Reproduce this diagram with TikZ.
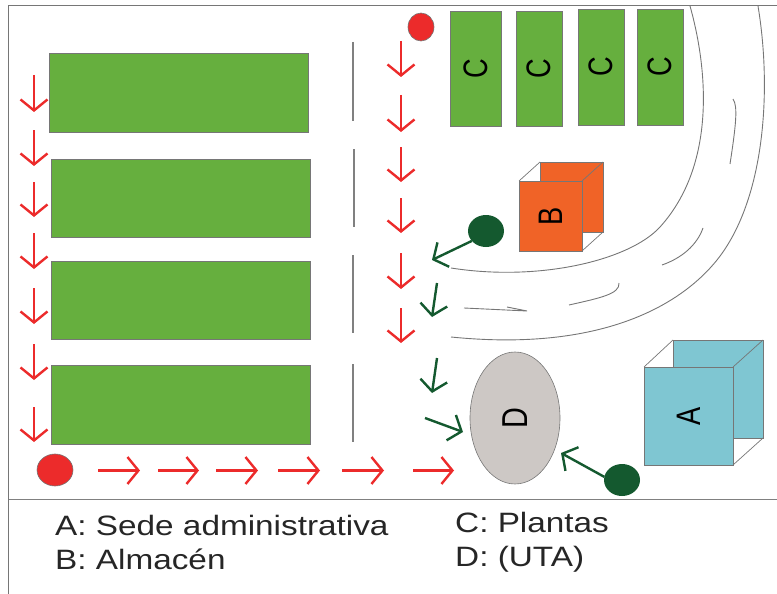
\documentclass[tikz,border=0pt]{standalone}
\usepackage{fontspec}
\usetikzlibrary{arrows.meta,shapes.geometric}
\setmainfont{Liberation Sans}
\newfontfamily\legendfont[FakeStretch=1.19]{Liberation Sans}
\newfontfamily\tagfont[FakeStretch=.8]{Liberation Sans}
\definecolor{fieldgreen}{HTML}{66AF3E}
\definecolor{storeorange}{HTML}{F06327}
\definecolor{officeblue}{HTML}{7FC6D2}
\definecolor{unitgray}{HTML}{CDC8C5}
\definecolor{flowred}{HTML}{EC2B2B}
\definecolor{flowgreen}{HTML}{14592F}
\definecolor{linegray}{HTML}{767676}

\begin{document}
\begin{tikzpicture}[
    x=1pt, y=-1pt, line join=miter,
    plotbox/.style={
      draw=linegray, line width=.8pt, shape=rectangle, inner sep=0pt, outer sep=0pt,
      text=black, font=\tagfont\fontsize{34}{34}\selectfont},
    field/.style={plotbox, fill=fieldgreen},
    store/.style={plotbox, fill=storeorange},
    office/.style={plotbox, fill=officeblue},
    blob/.style={shape=ellipse, inner sep=0pt, outer sep=0pt, draw=linegray, line width=.6pt},
    road/.style={draw=linegray, line width=.9pt},
    redflow/.style={draw=flowred, line width=2.4pt, -{Straight Barb[length=11pt,width=27pt,line width=2.4pt]}},
    greenflow/.style={draw=flowgreen, line width=2.4pt, -{Straight Barb[length=11pt,width=27pt,line width=2.4pt]}},
    legend/.style={anchor=base west, inner sep=0pt, text=black!85, font=\legendfont\fontsize{28}{28}\selectfont}]
  \useasboundingbox (0,0) rectangle (777,594);

  % frame
  \draw[road] (8.5,594) -- (8.5,5.5) -- (777,5.5);
  \draw[road, line width=1.2pt, draw=gray] (8.5,499.5) -- (777,499.5);

  % fields
  \foreach \x/\y/\w/\h[count=\i] in {178.5/92.5/259/79, 180.5/198/259/78, 180.5/300/259/78, 180.5/405/259/79}
  \node[field, minimum width=\w pt, minimum height=\h pt] (field-\i) at (\x,\y) {};

  % plants
  \foreach \x/\y/\w/\h[count=\i] in {475.5/68.5/51/115, 539/68.5/46/115, 601/67/46/116, 660/67/46/116}
  \node[field, minimum width=\w pt, minimum height=\h pt] (plant-\i) at (\x,\y) {\rotatebox{90}{C}};

  % stores
  \node[store, minimum width=63pt, minimum height=70pt] (store-back) at (571.5,197) {};
  \node[store, minimum width=63pt, minimum height=70pt] (store-front) at (550.5,216) {\rotatebox{90}{B}};
  \foreach \a in {north west,north east,south east}
  \draw[road, line width=.7pt] (store-front.\a) -- (store-back.\a);

  % office
  \node[office, minimum width=90pt, minimum height=98pt] (office-back) at (718,389) {};
  \node[office, minimum width=89pt, minimum height=98pt] (office-front) at (688.5,416) {\rotatebox{90}{A}};
  \foreach \a in {north west,north east,south east}
  \draw[road, line width=.7pt] (office-front.\a) -- (office-back.\a);

  % unit
  \node[blob, fill=unitgray, minimum width=90pt, minimum height=132pt, font=\tagfont\fontsize{36}{36}\selectfont] (unit) at (515,418) {\rotatebox{90}{D}};

  % dots
  \node[blob, fill=flowred, minimum width=26pt, minimum height=28pt] (dot-top) at (421,27) {};
  \node[blob, fill=flowred, minimum width=36pt, minimum height=32pt] (dot-low) at (55,470) {};
  \node[blob, draw=none, fill=flowgreen, minimum width=36pt, minimum height=32pt] (dot-store) at (486,231) {};
  \node[blob, draw=none, fill=flowgreen, minimum width=36pt, minimum height=32pt] (dot-office) at (622,480) {};

  % road edges
  \draw[road] (690,6) .. controls (708,70) and (716,165) .. (660,227) .. controls (630,260) and (540,282) .. (451,268);
  \draw[road] (758,6) .. controls (772,90) and (765,200) .. (717,260) .. controls (680,306) and (600,352) .. (451,337);
  \draw[road] (733,99) .. controls (738,106) and (736,125) .. (730,164);
  \draw[road] (703,228) .. controls (697,245) and (682,258) .. (662,265);
  \draw[road] (619,283) .. controls (620,294) and (600,298) .. (569,305);
  \draw[road] (464,308) -- (527,311) -- (507,307);

  % lanes
  \foreach \x/\s/\e in {353/42/121, 354/149/227, 353/255/333, 353/364/442}
  \draw[road, draw=gray, line width=1.2pt] (\x,\s) -- (\x,\e);

  % red flows
  \foreach \s/\e[count=\i] in {75/112, 130/166, 182/217, 233/269, 288/324, 344/380, 407/442} {
    \coordinate (left-\i-a) at (34,\s);
    \coordinate (left-\i-b) at (34,\e);
    \draw[redflow] (left-\i-a) -- (left-\i-b);
  }
  \foreach \s/\e[count=\i] in {41/77, 95/132, 147/182, 198/233, 253/289, 308/343} {
    \coordinate (mid-\i-a) at (401,\s);
    \coordinate (mid-\i-b) at (401,\e);
    \draw[redflow] (mid-\i-a) -- (mid-\i-b);
  }
  \foreach \s/\e[count=\i] in {98/140, 158/199, 216/258, 278/320, 342/384, 413/454} {
    \coordinate (low-\i-a) at (\s,470.5);
    \coordinate (low-\i-b) at (\e,470.5);
    \draw[redflow] (low-\i-a) -- (low-\i-b);
  }

  % green flows
  \coordinate (tip-store) at (432,260);
  \coordinate (tip-office) at (561,453);
  \draw[greenflow] (dot-store.215) -- (tip-store);
  \draw[greenflow] (dot-office.170) -- (tip-office);
  \foreach \a/\b/\c/\d[count=\i] in {437/283/432/317, 437/358/432/393, 425/418/463/432} {
    \coordinate (green-\i-a) at (\a,\b);
    \coordinate (green-\i-b) at (\c,\d);
    \draw[greenflow] (green-\i-a) -- (green-\i-b);
  }

  % legend
  \node[legend] (legend-a) at (55,535) {A: Sede administrativa};
  \node[legend] (legend-b) at (55,569) {B: Almacén};
  \node[legend] (legend-c) at (455,532) {C: Plantas};
  \node[legend] (legend-d) at (455,566) {D: (UTA)};
\end{tikzpicture}
\end{document}
